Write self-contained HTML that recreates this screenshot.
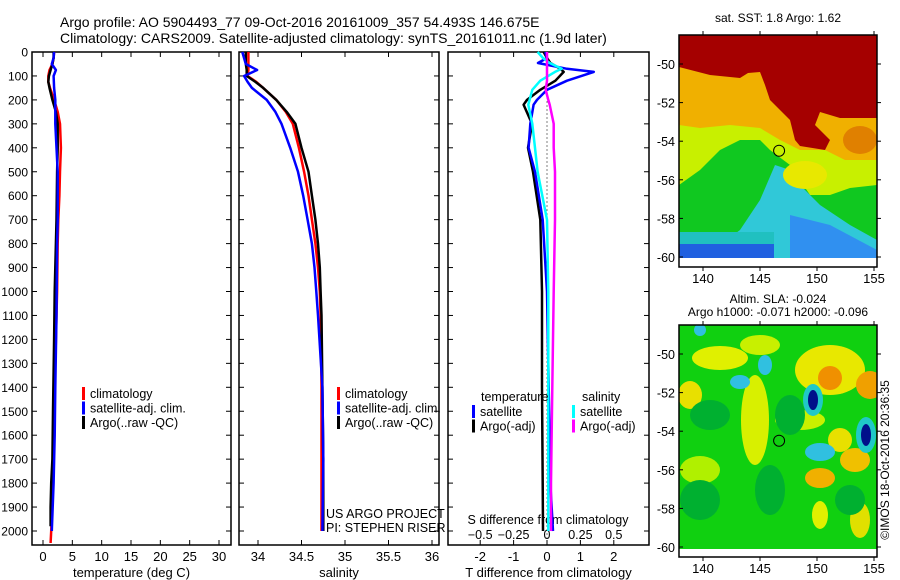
<!DOCTYPE html>
<html><head><meta charset="utf-8">
<style>
body{margin:0;background:#fff;}
svg{display:block;font-family:"Liberation Sans",sans-serif;}
</style></head>
<body>
<svg id="fig" width="900" height="580" viewBox="0 0 900 580" xmlns="http://www.w3.org/2000/svg">
<text x="60" y="27" font-size="14">Argo profile: AO 5904493_77 09-Oct-2016 20161009_357 54.493S 146.675E</text>
<text x="60" y="43" font-size="14">Climatology: CARS2009. Satellite-adjusted climatology: synTS_20161011.nc (1.9d later)</text>
<g id="g1"></g>
<g id="g2"></g>
<g id="g3"></g>
<g id="m1"></g>
<g id="m2"></g>
<text x="889" y="460" font-size="12" transform="rotate(-90 889 460)" text-anchor="middle">©IMOS 18-Oct-2016 20:36:35</text>
</svg>
<script>
const depthTicks=[0,100,200,300,400,500,600,700,800,900,1000,1100,1200,1300,1400,1500,1600,1700,1800,1900,2000];
const tempTicks=[0,5,10,15,20,25,30];
const salTicks=[34,34.5,35,35.5,36];
const tdTicks=[-2,-1,0,1,2];
const sdTicks=[-0.5,-0.25,0,0.25,0.5];
// temperature profiles
const tClimD=[0,25,50,75,100,125,150,200,250,300,400,500,600,700,800,1000,1200,1400,1600,1800,2000,2050];
const tClim=[1.9,1.8,1.6,1.1,0.9,0.9,1.2,1.9,2.5,2.9,3.05,2.9,2.8,2.6,2.5,2.4,2.2,2.0,1.8,1.6,1.4,1.3];
const tSatD=[0,25,50,75,100,150,200,250,300,400,500,700,800,1100,1400,1600,1800,2000];
const tSat=[1.9,1.8,1.5,2.2,1.8,1.9,2.1,2.1,2.1,2.3,2.5,2.5,2.4,2.3,2.1,2.0,1.8,1.5];
const tArgoD=[0,25,50,75,100,125,150,200,250,300,400,500,700,1000,1200,1500,1700,1800,1900,1980];
const tArgo=[1.8,1.8,1.6,1.3,1.0,0.9,1.1,1.6,2.2,2.5,2.5,2.4,2.3,2.0,1.9,1.7,1.6,1.4,1.3,1.3];
// salinity profiles
const sD=[0,50,75,100,125,150,200,250,300,400,500,600,700,800,900,1000,1100,1400,1700,2000];
const sClim=[33.89,33.89,33.89,33.88,33.98,34.06,34.21,34.32,34.40,34.47,34.53,34.58,34.62,34.66,34.69,34.71,34.72,34.73,34.73,34.73];
const sSat=[33.82,33.86,33.99,33.84,33.88,33.93,34.10,34.20,34.27,34.37,34.46,34.52,34.57,34.62,34.65,34.67,34.69,34.74,34.75,34.74];
const sArgo=[33.86,33.86,33.87,33.87,33.97,34.06,34.21,34.33,34.43,34.50,34.58,34.62,34.66,34.69,34.71,34.72,34.73,34.74,34.75,34.75];
// difference profiles
const dD=[0,25,46,70,83,120,158,200,220,300,400,500,700,1000,1400,1800,2000];
const tdSat=[-0.05,0,-0.27,0.6,1.4,0.6,0,-0.3,-0.4,-0.5,-0.55,-0.36,-0.13,0,0.05,0.1,0.18];
const tdArgo=[-0.1,0,0.1,0.4,0.5,0.25,-0.2,-0.6,-0.7,-0.45,-0.57,-0.42,-0.2,-0.15,-0.15,-0.13,-0.12];
const sdSat=[-0.07,-0.03,0.02,0.11,0.06,-0.05,-0.11,-0.13,-0.14,-0.11,-0.09,-0.07,0,0.01,0.01,0.01,0.01];
const sdArgo=[0,0,0,0,0,0,-0.01,0.01,0.02,0.05,0.05,0.06,0.06,0.05,0.04,0.03,0.03];

const NS="http://www.w3.org/2000/svg";
function el(p,tag,a,txt){const e=document.createElementNS(NS,tag);for(const k in a)e.setAttribute(k,a[k]);if(txt!==undefined)e.textContent=txt;p.appendChild(e);return e;}
const Y0=52,Y1=545;
const yD=d=>Y0+d*0.2395;

function panel(g,x0,x1,xs,ticks,fmt,xlabel,labelY){
  el(g,'rect',{x:x0,y:Y0,width:x1-x0,height:Y1-Y0,fill:'none',stroke:'#000','stroke-width':1.5});
  depthTicks.forEach(d=>{const y=yD(d);
    const t=el(g,'line',{x1:x0,x2:x0+5,y1:y,y2:y,stroke:'#000'});
    
    
    el(g,'line',{x1:x1-5,x2:x1,y1:y,y2:y,stroke:'#000'});});
  ticks.forEach(v=>{const x=xs(v);
    el(g,'line',{x1:x,x2:x,y1:Y0,y2:Y0+5,stroke:'#000'});
    el(g,'line',{x1:x,x2:x,y1:Y1-5,y2:Y1,stroke:'#000'});
    if(fmt){const t=el(g,'text',{x:x,y:561,'font-size':13,'text-anchor':'middle'},fmt(v));
    
    }});
  const l=el(g,'text',{x:(x0+x1)/2,y:labelY,'font-size':13,'text-anchor':'middle'},xlabel);
  
  
}
function line(g,xs,ds,vs,col,name,w){
  let d='';ds.forEach((dd,i)=>{d+=(i?'L':'M')+xs(vs[i]).toFixed(1)+','+yD(dd).toFixed(1);});
  const p=el(g,'path',{d:d,fill:'none',stroke:col,'stroke-width':w||2.5,'stroke-linejoin':'round'});
  
  
}
function legend(g,x,y,items){
  items.forEach((it,i)=>{
    el(g,'rect',{x:x,y:y+i*14.5-11,width:3,height:13,fill:it[1]});
    const t=el(g,'text',{x:x+8,y:y+i*14.5,'font-size':12.5},it[0]);
    
    
  });
}
// Panel 1
const g1=document.getElementById('g1');
const xT=v=>43+v*5.867;
panel(g1,32,231,xT,tempTicks,v=>String(v),'temperature (deg C)',577);
depthTicks.forEach(d=>{const t=el(g1,'text',{x:28,y:yD(d)+4.5,'font-size':12,'text-anchor':'end'},String(d));
  
  });
line(g1,xT,tClimD,tClim,'#f00','temp-climatology-line');
line(g1,xT,tArgoD,tArgo,'#000','temp-argo-line');
line(g1,xT,tSatD,tSat,'#00f','temp-satellite-line');
legend(g1,82,398,[['climatology','#f00'],['satellite-adj. clim.','#00f'],['Argo(..raw -QC)','#000']]);
// Panel 2
const g2=document.getElementById('g2');
const xS=v=>258+(v-34)*87;
panel(g2,239,439,xS,salTicks,v=>String(v),'salinity',577);
line(g2,xS,sD,sClim,'#f00','sal-climatology-line');
line(g2,xS,sD,sArgo,'#000','sal-argo-line');
line(g2,xS,sD,sSat,'#00f','sal-satellite-line');
legend(g2,337,398,[['climatology','#f00'],['satellite-adj. clim.','#00f'],['Argo(..raw -QC)','#000']]);
el(g2,'text',{x:326,y:518,'font-size':12.5},'US ARGO PROJECT');
el(g2,'text',{x:326,y:532,'font-size':12.5},'PI: STEPHEN RISER');
// Panel 3
const g3=document.getElementById('g3');
const xTD=v=>547+v*33.4;
const xSD=v=>547+v*133.6;
panel(g3,448,649,xTD,tdTicks,v=>String(v),'T difference from climatology',577);
sdTicks.forEach(v=>{const t=el(g3,'text',{x:xSD(v),y:539,'font-size':12.5,'text-anchor':'middle'},String(v).replace('-','\u2212'));
  
  });
el(g3,'text',{x:548,y:524,'font-size':12.5,'text-anchor':'middle'},'S difference from climatology');
el(g3,'line',{x1:547,x2:547,y1:yD(140),y2:Y1,stroke:'#000','stroke-dasharray':'1,3'});
line(g3,xTD,dD,tdArgo,'#000','tdiff-argo-line');
line(g3,xTD,dD,tdSat,'#00f','tdiff-satellite-line');
line(g3,xSD,dD,sdSat,'#0ff','sdiff-satellite-line');
line(g3,xSD,dD,sdArgo,'#f0f','sdiff-argo-line');
el(g3,'text',{x:481,y:401,'font-size':12.5},'temperature');
el(g3,'text',{x:582,y:401,'font-size':12.5},'salinity');
legend(g3,472,416,[['satellite','#00f'],['Argo(-adj)','#000']]);
legend(g3,572,416,[['satellite','#0ff'],['Argo(-adj)','#f0f']]);

// Maps
function mapFrame(g,top,bot,dataBot,yLat50,title1,title2,tY){
  const xL=v=>703+(v-140)*11.4;
  const yL=v=>yLat50+(-50-v)*19.3;
  el(g,'rect',{x:679,y:top,width:198,height:bot-top,fill:'none',stroke:'#000','stroke-width':1.5});
  [-50,-52,-54,-56,-58,-60].forEach(v=>{const y=yL(v);
    el(g,'line',{x1:877,x2:881,y1:y,y2:y,stroke:'#000'});
    el(g,'line',{x1:679,x2:683,y1:y,y2:y,stroke:'#000'});
    el(g,'text',{x:675,y:y+5,'font-size':12.5,'text-anchor':'end'},String(v));});
  [140,145,150,155].forEach(v=>{const x=xL(v);
    el(g,'line',{x1:x,x2:x,y1:top-4,y2:top,stroke:'#000'});
    el(g,'line',{x1:x,x2:x,y1:bot,y2:bot+4,stroke:'#000'});
    el(g,'text',{x:x,y:bot+16,'font-size':13,'text-anchor':'middle'},String(v));});
  el(g,'text',{x:778,y:tY,'font-size':12,'text-anchor':'middle'},title1);
  if(title2)el(g,'text',{x:778,y:tY+13,'font-size':12,'text-anchor':'middle'},title2);
  return {xL,yL};
}
const defs=el(document.getElementById('fig'),'defs',{});
const cp1=el(defs,'clipPath',{id:'cl1'});el(cp1,'rect',{x:679,y:35,width:198,height:223});
const cp2=el(defs,'clipPath',{id:'cl2'});el(cp2,'rect',{x:679,y:325,width:198,height:224});
const m1=document.getElementById('m1');
const c1=el(m1,'g',{'clip-path':'url(#cl1)'});
el(c1,'rect',{x:679,y:35,width:198,height:223,fill:'#10c820'});
el(c1,'polygon',{points:'679,35 877,35 877,185 850,188 830,195 810,195 800,180 790,165 770,150 760,140 740,140 720,150 700,170 679,185',fill:'#c8f000'});
el(c1,'polygon',{points:'679,35 877,35 877,160 845,160 825,150 800,150 780,140 760,128 730,125 700,128 679,125',fill:'#f0b000'});
el(c1,'polygon',{points:'679,35 877,35 877,118 840,118 820,112 815,125 830,140 825,150 800,146 795,140 790,120 770,100 765,85 760,72 748,73 740,78 710,75 679,67',fill:'#a50000'});
el(c1,'polygon',{points:'775,165 790,170 800,185 820,205 850,225 877,240 877,258 679,258 679,245 720,245 740,230 760,200',fill:'#30c8d8'});
el(c1,'polygon',{points:'790,215 830,225 877,250 877,258 790,258',fill:'#3090f0'});
el(c1,'rect',{x:679,y:232,width:95,height:12,fill:'#20c0c0'});
el(c1,'rect',{x:679,y:244,width:95,height:14,fill:'#2060e0'});
el(c1,'ellipse',{cx:805,cy:175,rx:22,ry:14,fill:'#e8e800'});
el(c1,'ellipse',{cx:860,cy:140,rx:17,ry:14,fill:'#e08000'});
const f1=mapFrame(m1,35,267,258,64,'sat. SST: 1.8 Argo: 1.62',null,22);
el(m1,'rect',{x:680,y:258,width:196,height:8,fill:'#fff'});
el(m1,'circle',{cx:f1.xL(146.675),cy:f1.yL(-54.493),r:5.5,fill:'none',stroke:'#000'});

const m2=document.getElementById('m2');
const c2=el(m2,'g',{'clip-path':'url(#cl2)'});
el(c2,'rect',{x:679,y:325,width:198,height:224,fill:'#10d010'});
[[720,358,28,12,'#e0f000'],[760,345,20,10,'#c8f000'],[755,420,14,45,'#d8f000'],[690,395,12,14,'#e8e000'],[830,370,35,25,'#e8e800'],[830,378,12,12,'#f09000'],[870,385,14,14,'#f0a000'],[855,460,15,12,'#f0c000'],[820,478,15,10,'#f0b000'],[800,420,25,10,'#c8f000'],[860,520,10,18,'#e0e000'],[820,515,8,14,'#e0f000'],[700,470,20,14,'#b0f000'],[840,440,12,12,'#e8e000']].forEach(b=>{
  el(c2,'ellipse',{cx:b[0],cy:b[1],rx:b[2],ry:b[3],fill:b[4]});});
[[710,415,20,15],[790,415,15,20],[700,500,20,20],[770,490,15,25],[850,500,15,15]].forEach(b=>{
  el(c2,'ellipse',{cx:b[0],cy:b[1],rx:b[2],ry:b[3],fill:'#00b030'});});
[[813,400,10,16,'#20c8c8'],[866,435,10,18,'#20c8c8'],[820,452,15,9,'#30c0e0'],[740,382,10,7,'#30c0e0'],[765,365,7,10,'#30c0e0'],[700,330,6,6,'#30c0e0'],[813,400,5,10,'#00108a'],[866,435,5,11,'#00108a']].forEach(b=>{
  el(c2,'ellipse',{cx:b[0],cy:b[1],rx:b[2],ry:b[3],fill:b[4]});});
const f2=mapFrame(m2,325,557,549,354,'Altim. SLA: -0.024','Argo h1000: -0.071 h2000: -0.096',303);
el(m2,'rect',{x:680,y:549,width:196,height:7,fill:'#fff'});
el(m2,'circle',{cx:f2.xL(146.675),cy:f2.yL(-54.493),r:5.5,fill:'none',stroke:'#000'});
</script>
</body></html>
